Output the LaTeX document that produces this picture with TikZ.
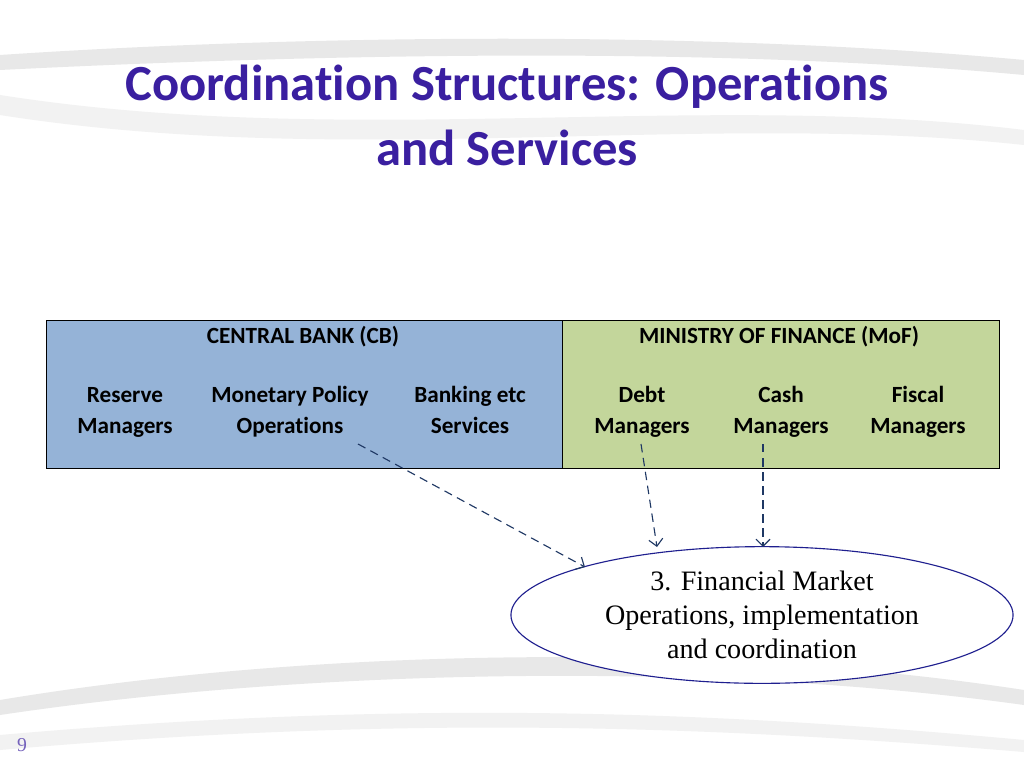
\documentclass[tikz,border=0pt]{standalone}
\usepackage{fontspec}
\setmainfont{Carlito}[RawFeature=-liga]
\newfontfamily\serifface{Liberation Serif}
\usetikzlibrary{shapes.geometric,arrows.meta}
\definecolor{titleblue}{HTML}{3A1FA0}
\definecolor{cbblue}{HTML}{95B3D7}
\definecolor{mofgreen}{HTML}{C3D69B}
\definecolor{navy}{HTML}{1F3864}
\definecolor{ringblue}{HTML}{1F1F8F}
\tikzset{
  unit/.style={font=\bfseries\fontsize{16.5}{22}\selectfont, align=center, text height=12pt, text depth=3pt},
  head/.style={font=\bfseries\fontsize{16.5}{20}\selectfont},
  feed/.style={navy, thick, dash pattern=on 6pt off 4pt, -{Straight Barb[length=5pt]}},
  swoosh/.style={fill=gray!18, draw=none}
}
\begin{document}
\begin{tikzpicture}[x=0.025cm, y=-0.025cm]
    % --- Canvas ---
    \useasboundingbox (0,0) rectangle (1024,768);
    \fill[white] (0,0) rectangle (1024,768);

    % --- Background swooshes ---
    \fill[swoosh] (0,55) .. controls (300,35) and (700,30) .. (1024,60) -- (1024,75) .. controls (700,45) and (300,55) .. (0,70) -- cycle;
    \fill[swoosh, fill=gray!10] (0,95) .. controls (350,150) and (700,90) .. (1024,130) -- (1024,145) .. controls (700,110) and (350,170) .. (0,115) -- cycle;
    \fill[swoosh] (0,700) .. controls (300,650) and (700,640) .. (1024,690) -- (1024,705) .. controls (700,660) and (300,670) .. (0,715) -- cycle;
    \fill[swoosh, fill=gray!10] (0,735) .. controls (400,700) and (700,710) .. (1024,740) -- (1024,752) .. controls (700,725) and (400,715) .. (0,750) -- cycle;

    % --- Title ---
    \node[titleblue, font=\bfseries\fontsize{36}{42}\selectfont] (title1) at (507,87) {Coordination Structures: Operations};
    \node[titleblue, font=\bfseries\fontsize{36}{42}\selectfont] (title2) at (507,148) {and Services};

    % --- Boxes ---
    \draw[fill=cbblue] (46,320) rectangle (562,468);
    \draw[fill=mofgreen] (562,320) rectangle (999,468);
    \node[head] (cb) at (303,337) {CENTRAL BANK (CB)};
    \node[head] (mof) at (779,337) {MINISTRY OF FINANCE (MoF)};

    % --- Units ---
    \node[unit] (reserve) at (125,427) {Reserve\\Managers};
    \node[unit] (monpol) at (290,427) {Monetary Policy\\Operations};
    \node[unit] (banking) at (470,427) {Banking etc\\Services};
    \node[unit] (debt) at (642,427) {Debt\\Managers};
    \node[unit] (cash) at (781,427) {Cash\\Managers};
    \node[unit] (fiscal) at (918,427) {Fiscal\\Managers};

    % --- Ellipse ---
    \node[ellipse, draw=ringblue, thick, fill=white, minimum width=12.55cm, minimum height=3.35cm,
          align=center, font=\serifface\fontsize{20}{24}\selectfont] (fmo) at (762,615)
          {3. Financial Market\\Operations, implementation\\and coordination};

    % --- Connectors ---
    \coordinate (mpfoot) at (358,444);
    \coordinate (debtfoot) at (641,444);
    \coordinate (cashfoot) at (763,444);
    \coordinate (mptip) at (585,567);
    \coordinate (debttip) at (657,547);
    \coordinate (cashtip) at (763,547);
    \draw[feed] (mpfoot) -- (mptip);
    \draw[feed] (debtfoot) -- (debttip);
    \draw[feed] (cashfoot) -- (cashtip);

    % --- Page number ---
    \node[titleblue!70, font=\serifface\fontsize{14}{16}\selectfont] (pagenum) at (22,745) {9};
\end{tikzpicture}
\end{document}
